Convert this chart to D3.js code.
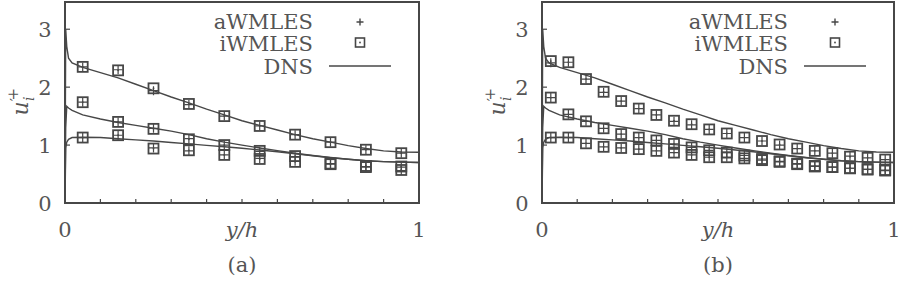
<!DOCTYPE html>
<html>
<head>
<meta charset="utf-8">
<script src="https://cdn.jsdelivr.net/npm/d3@7"></script>
<style>
  body { margin: 0; background: #fff; }
  svg text { font-family: "DejaVu Serif", "Liberation Serif", serif; fill: #555; }
</style>
</head>
<body>
<svg id="chart" width="912" height="285"></svg>
<script>
// DNS profiles (same reference data in both panels)
const dnsY = [0, 0.002, 0.005, 0.01, 0.02, 0.05, 0.1, 0.15, 0.2, 0.25, 0.3, 0.35, 0.4, 0.45,
              0.5, 0.55, 0.6, 0.65, 0.7, 0.75, 0.8, 0.85, 0.9, 0.95, 1.0]
const dnsU = [0, 3.0, 2.7, 2.5, 2.42, 2.34, 2.25, 2.16, 2.05, 1.94, 1.83, 1.73, 1.62, 1.52,
              1.42, 1.34, 1.26, 1.18, 1.11, 1.05, 0.99, 0.94, 0.90, 0.88, 0.875]
const dnsW = [0, 1.3, 1.67, 1.64, 1.6, 1.52, 1.45, 1.39, 1.34, 1.29, 1.24, 1.18, 1.11, 1.05,
              1.0, 0.95, 0.905, 0.86, 0.82, 0.785, 0.755, 0.73, 0.715, 0.705, 0.70]
const dnsV = [0, 0.95, 1.05, 1.1, 1.13, 1.135, 1.13, 1.11, 1.09, 1.07, 1.045, 1.02, 0.995, 0.97,
              0.945, 0.915, 0.885, 0.85, 0.815, 0.78, 0.755, 0.73, 0.715, 0.705, 0.70]

// panel (a): 10 sample locations
const yA = [0.05, 0.15, 0.25, 0.35, 0.45, 0.55, 0.65, 0.75, 0.85, 0.95]
const iA_u = [2.35, 2.29, 1.98, 1.71, 1.50, 1.33, 1.18, 1.05, 0.92, 0.86]
const iA_w = [1.74, 1.40, 1.28, 1.10, 1.00, 0.90, 0.81, 0.68, 0.64, 0.63]
const iA_v = [1.13, 1.17, 0.94, 0.91, 0.83, 0.76, 0.71, 0.67, 0.62, 0.57]
const aA_u = [2.35, 2.30, 1.94, 1.70, 1.50, 1.33, 1.18, 1.05, 0.92, 0.86]
const aA_w = [1.74, 1.40, 1.29, 1.11, 1.00, 0.89, 0.80, 0.68, 0.63, 0.62]
const aA_v = [1.13, 1.17, 0.95, 0.90, 0.83, 0.77, 0.72, 0.67, 0.62, 0.56]

// panel (b): 20 sample locations
const yB = [0.025, 0.075, 0.125, 0.175, 0.225, 0.275, 0.325, 0.375, 0.425, 0.475,
            0.525, 0.575, 0.625, 0.675, 0.725, 0.775, 0.825, 0.875, 0.925, 0.975]
const iB_u = [2.45, 2.43, 2.14, 1.92, 1.76, 1.63, 1.52, 1.42, 1.36, 1.27,
              1.20, 1.13, 1.07, 1.01, 0.94, 0.90, 0.86, 0.80, 0.78, 0.75]
const iB_w = [1.82, 1.53, 1.41, 1.29, 1.19, 1.13, 1.08, 1.02, 0.96, 0.91,
              0.87, 0.82, 0.76, 0.72, 0.68, 0.64, 0.62, 0.60, 0.58, 0.57]
const iB_v = [1.13, 1.13, 1.03, 0.97, 0.95, 0.93, 0.90, 0.87, 0.83, 0.79,
              0.79, 0.77, 0.74, 0.71, 0.67, 0.63, 0.62, 0.60, 0.58, 0.56]
const aB_u = [2.42, 2.43, 2.14, 1.91, 1.76, 1.63, 1.52, 1.41, 1.35, 1.27,
              1.20, 1.13, 1.07, 1.00, 0.94, 0.90, 0.86, 0.81, 0.78, 0.75]
const aB_w = iB_w.map(d => d)
const aB_v = iB_v.map(d => d)

const xTicks = [0, 0.1, 0.2, 0.3, 0.4, 0.5, 0.6, 0.7, 0.8, 0.9, 1]
const yTicks = [0, 1, 2, 3]

const ink = "#474747"
const svg = d3.select("#chart")

function drawPanel(left, right, label, ys, iSeries, aSeries) {
  const x = d3.scaleLinear().domain([0, 1]).range([left, right])
  const y = d3.scaleLinear().domain([0, 3.47]).range([203, 2])
  const g = svg.append("g")

  // ticks (inward, bottom + left only)
  g.append("g").selectAll("line")
    .data(xTicks.slice(1, -1))
    .enter().append("line")
    .attr("x1", d => x(d)).attr("x2", d => x(d))
    .attr("y1", y(0)).attr("y2", y(0) - 4)
    .attr("stroke", ink).attr("stroke-width", 1.2)
  g.append("g").selectAll("line")
    .data(yTicks.slice(1))
    .enter().append("line")
    .attr("x1", x(0)).attr("x2", x(0) + 5)
    .attr("y1", d => y(d)).attr("y2", d => y(d))
    .attr("stroke", ink).attr("stroke-width", 1.2)

  // tick labels
  g.selectAll(".yl")
    .data(yTicks)
    .enter().append("text")
    .attr("x", x(0) - 20).attr("y", d => y(d) + 8)
    .attr("text-anchor", "middle").attr("font-size", 21)
    .text(d => d)
  g.selectAll(".xl")
    .data([0, 1])
    .enter().append("text")
    .attr("x", d => x(d)).attr("y", 237)
    .attr("text-anchor", "middle").attr("font-size", 21)
    .text(d => d)

  // axis titles
  g.append("text")
    .attr("x", (left + right) / 2).attr("y", 237)
    .attr("text-anchor", "middle").attr("font-size", 21)
    .attr("font-style", "italic")
    .text("y/h")
  g.append("text")
    .attr("x", (left + right) / 2).attr("y", 272)
    .attr("text-anchor", "middle").attr("font-size", 21)
    .text(label)
  const yl = g.append("text")
    .attr("transform", `translate(${left - 37},${y(1.75)}) rotate(-90)`)
    .attr("text-anchor", "middle").attr("font-size", 22)
  yl.append("tspan").attr("font-style", "italic").text("u")
  yl.append("tspan").attr("font-size", 15).attr("dy", -7).text("′")
  yl.append("tspan").attr("font-size", 14).attr("font-style", "italic").attr("dx", -3).attr("dy", 13).text("i")
  yl.append("tspan").attr("font-size", 15).attr("dx", -4).attr("dy", -16).text("+")

  // DNS lines
  const line = d3.line()
    .x(d => x(d[0]))
    .y(d => y(d[1]))
  ;[dnsU, dnsW, dnsV].forEach(vals => {
    g.append("path")
      .datum(dnsY.map((d, i) => [d, vals[i]]))
      .attr("d", line)
      .attr("fill", "none")
      .attr("stroke", ink)
      .attr("stroke-width", 1.4)
  })

  // iWMLES squares with centre dot
  iSeries.forEach(vals => {
    const pts = g.append("g").selectAll("g")
      .data(ys.map((d, i) => [d, vals[i]]))
      .enter().append("g")
      .attr("transform", d => `translate(${x(d[0])},${y(d[1])})`)
    pts.append("rect")
      .attr("x", -5).attr("y", -5).attr("width", 10).attr("height", 10)
      .attr("fill", "none").attr("stroke", ink).attr("stroke-width", 1.8)
    pts.append("circle").attr("r", 0.9).attr("fill", ink)
  })
  // aWMLES plus signs
  aSeries.forEach(vals => {
    g.append("g").selectAll("path")
      .data(ys.map((d, i) => [d, vals[i]]))
      .enter().append("path")
      .attr("d", d => {
        const px = x(d[0]), py = y(d[1])
        return `M${px - 4.5},${py}H${px + 4.5}M${px},${py - 4.5}V${py + 4.5}`
      })
      .attr("stroke", ink).attr("stroke-width", 1.2)
  })

  // frame
  g.append("rect")
    .attr("x", left).attr("y", 2)
    .attr("width", right - left).attr("height", 201)
    .attr("fill", "none").attr("stroke", ink).attr("stroke-width", 2)

  // legend
  const tx = right - 106, sx = right - 59
  const leg = [["aWMLES", 29], ["iWMLES", 51], ["DNS", 74]]
  leg.forEach(([t, by]) => {
    g.append("text")
      .attr("x", tx).attr("y", by)
      .attr("text-anchor", "end").attr("font-size", 21)
      .text(t)
  })
  g.append("path")
    .attr("d", `M${sx - 3.5},22H${sx + 3.5}M${sx},18.5V25.5`)
    .attr("stroke", ink).attr("stroke-width", 1.4)
  g.append("rect")
    .attr("x", sx - 4.5).attr("y", 38).attr("width", 9).attr("height", 9)
    .attr("fill", "none").attr("stroke", ink).attr("stroke-width", 1.6)
  g.append("circle").attr("cx", sx).attr("cy", 42.5).attr("r", 0.9).attr("fill", ink)
  g.append("line")
    .attr("x1", right - 90).attr("x2", right - 28)
    .attr("y1", 66).attr("y2", 66)
    .attr("stroke", ink).attr("stroke-width", 1.4)
}

drawPanel(65, 419, "(a)", yA, [iA_u, iA_w, iA_v], [aA_u, aA_w, aA_v])
drawPanel(542, 894, "(b)", yB, [iB_u, iB_w, iB_v], [aB_u, aB_w, aB_v])
</script>
</body>
</html>
